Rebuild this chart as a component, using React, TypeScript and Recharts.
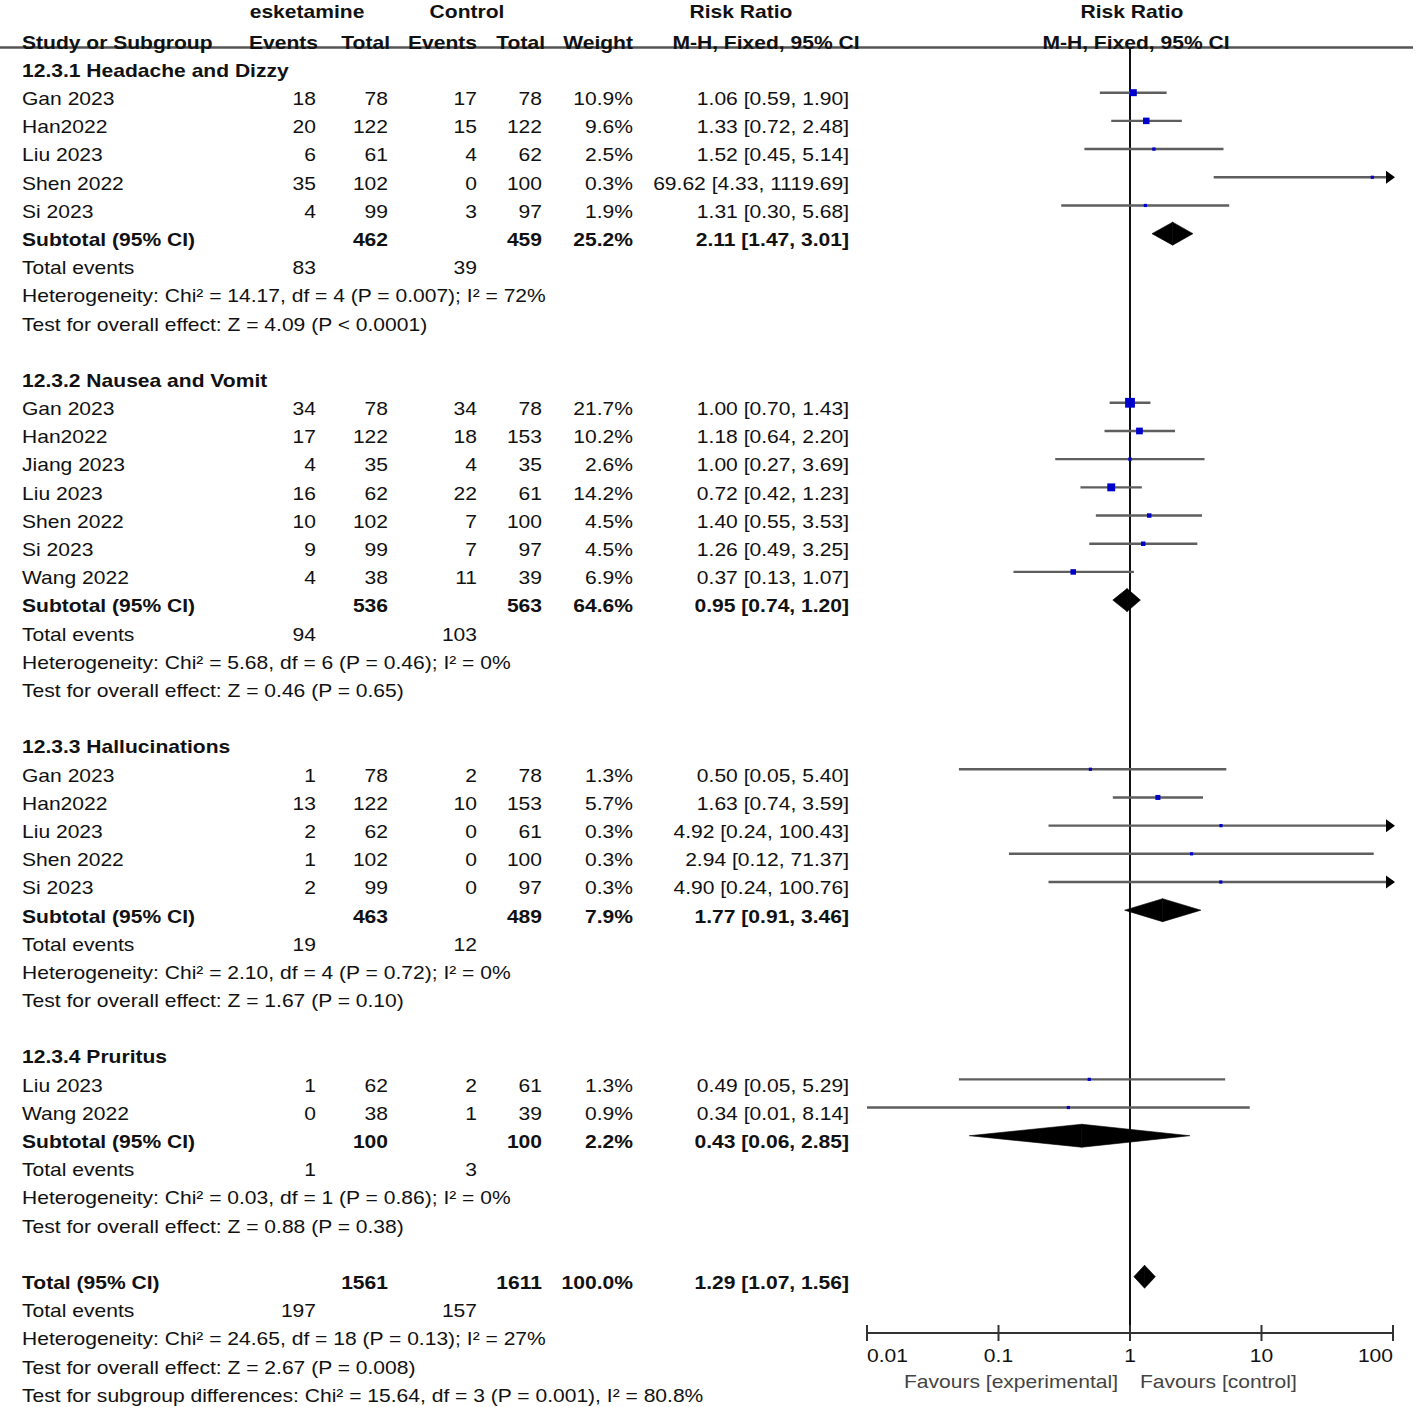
import React from "react";
import { ComposedChart, XAxis, YAxis, Scatter, ReferenceLine } from "recharts";

// ---------- data ----------
const groupTitles = [
  "12.3.1 Headache and Dizzy",
  "12.3.2 Nausea and Vomit",
  "12.3.3 Hallucinations",
  "12.3.4 Pruritus",
];
const studyGroup = [0, 0, 0, 0, 0, 1, 1, 1, 1, 1, 1, 1, 2, 2, 2, 2, 2, 3, 3];
const studyNames = [
  "Gan 2023", "Han2022", "Liu 2023", "Shen 2022", "Si 2023",
  "Gan 2023", "Han2022", "Jiang 2023", "Liu 2023", "Shen 2022", "Si 2023", "Wang 2022",
  "Gan 2023", "Han2022", "Liu 2023", "Shen 2022", "Si 2023",
  "Liu 2023", "Wang 2022",
];
const expEvents = [18, 20, 6, 35, 4, 34, 17, 4, 16, 10, 9, 4, 1, 13, 2, 1, 2, 1, 0];
const expTotal = [78, 122, 61, 102, 99, 78, 122, 35, 62, 102, 99, 38, 78, 122, 62, 102, 99, 62, 38];
const ctlEvents = [17, 15, 4, 0, 3, 34, 18, 4, 22, 7, 7, 11, 2, 10, 0, 0, 0, 2, 1];
const ctlTotal = [78, 122, 62, 100, 97, 78, 153, 35, 61, 100, 97, 39, 78, 153, 61, 100, 97, 61, 39];
const weights = [10.9, 9.6, 2.5, 0.3, 1.9, 21.7, 10.2, 2.6, 14.2, 4.5, 4.5, 6.9, 1.3, 5.7, 0.3, 0.3, 0.3, 1.3, 0.9];
const riskRatio = [1.06, 1.33, 1.52, 69.62, 1.31, 1.0, 1.18, 1.0, 0.72, 1.4, 1.26, 0.37, 0.5, 1.63, 4.92, 2.94, 4.9, 0.49, 0.34];
const ciLow = [0.59, 0.72, 0.45, 4.33, 0.3, 0.7, 0.64, 0.27, 0.42, 0.55, 0.49, 0.13, 0.05, 0.74, 0.24, 0.12, 0.24, 0.05, 0.01];
const ciHigh = [1.9, 2.48, 5.14, 1119.69, 5.68, 1.43, 2.2, 3.69, 1.23, 3.53, 3.25, 1.07, 5.4, 3.59, 100.43, 71.37, 100.76, 5.29, 8.14];

const subExpTotal = [462, 536, 463, 100];
const subCtlTotal = [459, 563, 489, 100];
const subWeight = [25.2, 64.6, 7.9, 2.2];
const subRR = [2.11, 0.95, 1.77, 0.43];
const subLow = [1.47, 0.74, 0.91, 0.06];
const subHigh = [3.01, 1.2, 3.46, 2.85];
const subExpEvents = [83, 94, 19, 1];
const subCtlEvents = [39, 103, 12, 3];
const subHeterogeneity = [
  "Chi² = 14.17, df = 4 (P = 0.007); I² = 72%",
  "Chi² = 5.68, df = 6 (P = 0.46); I² = 0%",
  "Chi² = 2.10, df = 4 (P = 0.72); I² = 0%",
  "Chi² = 0.03, df = 1 (P = 0.86); I² = 0%",
];
const subOverall = [
  "Z = 4.09 (P < 0.0001)",
  "Z = 0.46 (P = 0.65)",
  "Z = 1.67 (P = 0.10)",
  "Z = 0.88 (P = 0.38)",
];

const totalExpTotal = 1561;
const totalCtlTotal = 1611;
const totalWeight = 100.0;
const totalRR = 1.29;
const totalLow = 1.07;
const totalHigh = 1.56;
const totalExpEvents = 197;
const totalCtlEvents = 157;
const totalHeterogeneity = "Chi² = 24.65, df = 18 (P = 0.13); I² = 27%";
const totalOverall = "Z = 2.67 (P = 0.008)";
const subgroupDiff = "Chi² = 15.64, df = 3 (P = 0.001), I² = 80.8%";

const tickValues = [0.01, 0.1, 1, 10, 100];
const tickLabels = ["0.01", "0.1", "1", "10", "100"];
const favoursLeft = "Favours [experimental]";
const favoursRight = "Favours [control]";

// ---------- layout ----------
const W = 1417;
const H = 1407;
const ROW_H = 28.19;
const MARK0 = 64.5;
const TEXT0 = 76.8;
const PLOT_TOP = 47;
const PLOT_BOTTOM = 1333;
const PLOT_LEFT = 867;
const PLOT_RIGHT = 1393;
const SX = 1.17;
const FS = 18;
const FONT = "'Liberation Sans', Arial, Helvetica, sans-serif";
const X_MIN = tickValues[0];
const X_MAX = tickValues[tickValues.length - 1];
const Y_MIN = (PLOT_TOP - MARK0) / ROW_H;
const Y_MAX = (PLOT_BOTTOM - MARK0) / ROW_H;
const COL = { name: 22, expEv: 316, expTot: 388, ctlEv: 477, ctlTot: 542, weight: 633, rr: 849 };

type Anchor = "start" | "middle" | "end";
type TextItem = { row: number; x: number; anchor: Anchor; bold?: boolean; s: string };

const fmtCI = (e: number, l: number, h: number) => `${e.toFixed(2)} [${l.toFixed(2)}, ${h.toFixed(2)}]`;

const texts: TextItem[] = [];
const points: { x: number; y: number; w: number }[] = [];
const ciSegs: { row: number; lo: number; hi: number; clipped: boolean }[] = [];
const diamonds: { row: number; lo: number; est: number; hi: number }[] = [];

let r = 0;
groupTitles.forEach((title, g) => {
  texts.push({ row: r, x: COL.name, anchor: "start", bold: true, s: title });
  r++;
  studyNames.forEach((name, i) => {
    if (studyGroup[i] !== g) return;
    texts.push({ row: r, x: COL.name, anchor: "start", s: name });
    texts.push({ row: r, x: COL.expEv, anchor: "end", s: String(expEvents[i]) });
    texts.push({ row: r, x: COL.expTot, anchor: "end", s: String(expTotal[i]) });
    texts.push({ row: r, x: COL.ctlEv, anchor: "end", s: String(ctlEvents[i]) });
    texts.push({ row: r, x: COL.ctlTot, anchor: "end", s: String(ctlTotal[i]) });
    texts.push({ row: r, x: COL.weight, anchor: "end", s: `${weights[i].toFixed(1)}%` });
    texts.push({ row: r, x: COL.rr, anchor: "end", s: fmtCI(riskRatio[i], ciLow[i], ciHigh[i]) });
    points.push({ x: riskRatio[i], y: r, w: weights[i] });
    ciSegs.push({
      row: r,
      lo: Math.max(ciLow[i], X_MIN),
      hi: Math.min(ciHigh[i], X_MAX),
      clipped: ciHigh[i] > X_MAX,
    });
    r++;
  });
  texts.push({ row: r, x: COL.name, anchor: "start", bold: true, s: "Subtotal (95% CI)" });
  texts.push({ row: r, x: COL.expTot, anchor: "end", bold: true, s: String(subExpTotal[g]) });
  texts.push({ row: r, x: COL.ctlTot, anchor: "end", bold: true, s: String(subCtlTotal[g]) });
  texts.push({ row: r, x: COL.weight, anchor: "end", bold: true, s: `${subWeight[g].toFixed(1)}%` });
  texts.push({ row: r, x: COL.rr, anchor: "end", bold: true, s: fmtCI(subRR[g], subLow[g], subHigh[g]) });
  diamonds.push({ row: r, lo: subLow[g], est: subRR[g], hi: subHigh[g] });
  r++;
  texts.push({ row: r, x: COL.name, anchor: "start", s: "Total events" });
  texts.push({ row: r, x: COL.expEv, anchor: "end", s: String(subExpEvents[g]) });
  texts.push({ row: r, x: COL.ctlEv, anchor: "end", s: String(subCtlEvents[g]) });
  r++;
  texts.push({ row: r, x: COL.name, anchor: "start", s: `Heterogeneity: ${subHeterogeneity[g]}` });
  r++;
  texts.push({ row: r, x: COL.name, anchor: "start", s: `Test for overall effect: ${subOverall[g]}` });
  r++;
  r++;
});
texts.push({ row: r, x: COL.name, anchor: "start", bold: true, s: "Total (95% CI)" });
texts.push({ row: r, x: COL.expTot, anchor: "end", bold: true, s: String(totalExpTotal) });
texts.push({ row: r, x: COL.ctlTot, anchor: "end", bold: true, s: String(totalCtlTotal) });
texts.push({ row: r, x: COL.weight, anchor: "end", bold: true, s: `${totalWeight.toFixed(1)}%` });
texts.push({ row: r, x: COL.rr, anchor: "end", bold: true, s: fmtCI(totalRR, totalLow, totalHigh) });
diamonds.push({ row: r, lo: totalLow, est: totalRR, hi: totalHigh });
r++;
texts.push({ row: r, x: COL.name, anchor: "start", s: "Total events" });
texts.push({ row: r, x: COL.expEv, anchor: "end", s: String(totalExpEvents) });
texts.push({ row: r, x: COL.ctlEv, anchor: "end", s: String(totalCtlEvents) });
r++;
texts.push({ row: r, x: COL.name, anchor: "start", s: `Heterogeneity: ${totalHeterogeneity}` });
r++;
texts.push({ row: r, x: COL.name, anchor: "start", s: `Test for overall effect: ${totalOverall}` });
r++;
texts.push({ row: r, x: COL.name, anchor: "start", s: `Test for subgroup differences: ${subgroupDiff}` });

// ---------- drawing helpers ----------
const T = ({ x, y, anchor, bold, s, color }: { x: number; y: number; anchor: Anchor; bold?: boolean; s: string; color?: string }) => (
  <text
    transform={`translate(${x},${y}) scale(${SX},1)`}
    textAnchor={anchor}
    fontFamily={FONT}
    fontSize={FS}
    fontWeight={bold ? "bold" : "normal"}
    fill={color || "#111"}
  >
    {s}
  </text>
);

const ciShape = (clipped: boolean) => (p: any) => (
  <g>
    <line x1={p.x1} y1={p.y1} x2={p.x2} y2={p.y2} stroke="#5e5e5e" strokeWidth={2.4} />
    {clipped ? (
      <polygon points={`${p.x2 + 2},${p.y2} ${p.x2 - 7},${p.y2 - 6.5} ${p.x2 - 7},${p.y2 + 6.5}`} fill="#000" />
    ) : null}
  </g>
);

const DH = 11.5;
const leftHalf = (p: any) => (
  <polygon points={`${p.x1},${p.y1} ${p.x2},${p.y1 - DH} ${p.x2},${p.y1 + DH}`} fill="#000" stroke="#000" strokeWidth={0.6} />
);
const rightHalf = (p: any) => (
  <polygon points={`${p.x1},${p.y1 - DH} ${p.x2},${p.y1} ${p.x1},${p.y1 + DH}`} fill="#000" stroke="#000" strokeWidth={0.6} />
);

const squareShape = (p: any) => {
  const { cx, cy, payload } = p;
  if (cx == null || cy == null) return <g />;
  const s = Math.max(3.2, 2.1 * Math.sqrt(payload.w));
  return <rect x={cx - s / 2} y={cy - s / 2} width={s} height={s} fill="#0000cc" />;
};

const AxisTick = (p: any) => {
  const { x, y, payload } = p;
  const idx = tickValues.indexOf(payload.value);
  const anchor: Anchor = idx === 0 ? "start" : idx === tickValues.length - 1 ? "end" : "middle";
  return (
    <g>
      <line x1={x} x2={x} y1={y - 8} y2={y + 8} stroke="#333" strokeWidth={2} />
      <T x={x} y={y + 29} anchor={anchor} s={tickLabels[idx] ?? String(payload.value)} />
    </g>
  );
};

export default function App() {
  return (
    <div style={{ position: "absolute", left: 0, top: 0, width: W, height: H, background: "#fff" }}>
      <ComposedChart
        width={W}
        height={H}
        margin={{ top: PLOT_TOP, left: PLOT_LEFT, right: W - PLOT_RIGHT, bottom: H - PLOT_BOTTOM - 60 }}
      >
        <XAxis
          dataKey="x"
          type="number"
          scale="log"
          domain={[X_MIN, X_MAX]}
          allowDataOverflow
          ticks={tickValues}
          interval={0}
          height={60}
          tickSize={0}
          tickMargin={0}
          tickLine={false}
          axisLine={{ stroke: "#333", strokeWidth: 2 }}
          tick={<AxisTick />}
        />
        <YAxis dataKey="y" type="number" domain={[Y_MIN, Y_MAX]} reversed hide allowDataOverflow />
        <ReferenceLine x={1} stroke="#111" strokeWidth={2} ifOverflow="visible" />
        {ciSegs.map((c, i) => (
          <ReferenceLine
            key={`ci${i}`}
            segment={[{ x: c.lo, y: c.row }, { x: c.hi, y: c.row }]}
            ifOverflow="visible"
            shape={ciShape(c.clipped)}
          />
        ))}
        {diamonds.map((d, i) => (
          <ReferenceLine
            key={`dl${i}`}
            segment={[{ x: d.lo, y: d.row }, { x: d.est, y: d.row }]}
            ifOverflow="visible"
            shape={leftHalf}
          />
        ))}
        {diamonds.map((d, i) => (
          <ReferenceLine
            key={`dr${i}`}
            segment={[{ x: d.est, y: d.row }, { x: d.hi, y: d.row }]}
            ifOverflow="visible"
            shape={rightHalf}
          />
        ))}
        <Scatter data={points} dataKey="y" shape={squareShape} isAnimationActive={false} />
      </ComposedChart>
      <svg
        width={W}
        height={H}
        style={{ position: "absolute", left: 0, top: 0, pointerEvents: "none" }}
      >
        <line x1={0} x2={1413} y1={47.5} y2={47.5} stroke="#555" strokeWidth={2.4} />
        <T x={307} y={18} anchor="middle" bold s="esketamine" />
        <T x={467} y={18} anchor="middle" bold s="Control" />
        <T x={741} y={18} anchor="middle" bold s="Risk Ratio" />
        <T x={1132} y={18} anchor="middle" bold s="Risk Ratio" />
        <T x={22} y={49} anchor="start" bold s="Study or Subgroup" />
        <T x={318} y={49} anchor="end" bold s="Events" />
        <T x={390} y={49} anchor="end" bold s="Total" />
        <T x={477} y={49} anchor="end" bold s="Events" />
        <T x={545} y={49} anchor="end" bold s="Total" />
        <T x={633} y={49} anchor="end" bold s="Weight" />
        <T x={766} y={49} anchor="middle" bold s="M-H, Fixed, 95% CI" />
        <T x={1136} y={49} anchor="middle" bold s="M-H, Fixed, 95% CI" />
        {texts.map((t, i) => (
          <T key={i} x={t.x} y={TEXT0 + t.row * ROW_H} anchor={t.anchor} bold={t.bold} s={t.s} />
        ))}
        <T x={1118} y={1388} anchor="end" s={favoursLeft} color="#444" />
        <T x={1140} y={1388} anchor="start" s={favoursRight} color="#444" />
      </svg>
    </div>
  );
}
